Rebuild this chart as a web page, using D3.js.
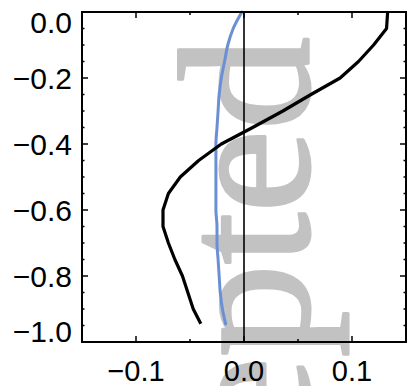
<!DOCTYPE html>
<html>
<head>
<meta charset="utf-8">
<script src="https://cdn.jsdelivr.net/npm/d3@7"></script>
<style>
  html, body { margin: 0; padding: 0; background: #fff; }
  svg { display: block; }
</style>
</head>
<body>
<div id="chart"></div>
<script>
// depth levels (y) and the two profiles
var depths = [0, -0.05, -0.1, -0.15, -0.2, -0.25, -0.3, -0.35, -0.4, -0.45,
	-0.5, -0.55, -0.6, -0.65, -0.7, -0.75, -0.8, -0.85, -0.9, -0.945];
var blackProfile = [0.133, 0.132, 0.120, 0.106, 0.089, 0.062, 0.036, 0.008, -0.021, -0.042,
	-0.059, -0.070, -0.075, -0.075, -0.070, -0.064, -0.057, -0.052, -0.047, -0.040];
var blueProfile = [-0.002, -0.010, -0.015, -0.018, -0.021, -0.023, -0.024, -0.025, -0.026, -0.026,
	-0.026, -0.026, -0.026, -0.025, -0.025, -0.024, -0.023, -0.022, -0.020, -0.017];
var xTickLabels = [-0.1, 0.0, 0.1];
var yTickLabels = [0.0, -0.2, -0.4, -0.6, -0.8, -1.0];

var width = 407, height = 386;
var frame = {left: 82, top: 12, right: 406, bottom: 342};
var serifFont = "'Liberation Serif', 'Times New Roman', serif";
var sansFont = "'Liberation Sans', Arial, Helvetica, sans-serif";

var svg = d3.select("#chart").append("svg")
	.attr("width", width)
	.attr("height", height);

var x = d3.scaleLinear().domain([-0.15, 0.15]).range([frame.left, frame.right]);
var y = d3.scaleLinear().domain([-1, 0]).range([frame.bottom, frame.top]);

// watermark, drawn first so everything sits on top of it
// (a thin stroke in the same grey makes the glyphs as heavy as the original)
svg.append("text")
	.attr("transform", "translate(308,37) rotate(-90)")
	.attr("text-anchor", "end")
	.style("font-family", serifFont)
	.style("font-size", "186px")
	.attr("fill", "#c2c2c2")
	.attr("stroke", "#c2c2c2")
	.attr("stroke-width", 3)
	.attr("stroke-linejoin", "round")
	.text("Accepted");

// tick positions every 0.05, majors on 0.1 (x) and 0.2 (y)
var xTicks = d3.range(-0.1, 0.1001, 0.05).map(function(d) { return +d.toFixed(2); });
var yTicks = d3.range(-0.95, -0.0001, 0.05).map(function(d) { return +d.toFixed(2); });
function isMajor(v, step) { return Math.abs(v / step - Math.round(v / step)) < 1e-6; }

var ticksG = svg.append("g")
	.attr("stroke", "#000")
	.attr("stroke-width", 1.5);

xTicks.forEach(function(v) {
	var len = isMajor(v, 0.1) ? 6 : 3;
	ticksG.append("line")
		.attr("x1", x(v)).attr("x2", x(v))
		.attr("y1", frame.bottom).attr("y2", frame.bottom - len);
	ticksG.append("line")
		.attr("x1", x(v)).attr("x2", x(v))
		.attr("y1", frame.top).attr("y2", frame.top + len);
});

yTicks.forEach(function(v) {
	var len = isMajor(v, 0.2) ? 6 : 2.5;
	ticksG.append("line")
		.attr("x1", frame.left).attr("x2", frame.left + len)
		.attr("y1", y(v)).attr("y2", y(v));
	ticksG.append("line")
		.attr("x1", frame.right).attr("x2", frame.right - len)
		.attr("y1", y(v)).attr("y2", y(v));
});

// zero line
svg.append("line")
	.attr("x1", x(0)).attr("x2", x(0))
	.attr("y1", frame.top).attr("y2", frame.bottom)
	.attr("stroke", "#000")
	.attr("stroke-width", 1.6);

// profiles
var blackData = depths.map(function(d, i) { return {depth: d, value: blackProfile[i]}; });
var blueData = depths.map(function(d, i) { return {depth: d, value: blueProfile[i]}; });

var line = d3.line()
	.x(function(d) { return x(d.value); })
	.y(function(d) { return y(d.depth); });

svg.append("path")
	.datum(blueData)
	.attr("fill", "none")
	.attr("stroke", "#6b8fd4")
	.attr("stroke-width", 3)
	.attr("stroke-linecap", "round")
	.attr("d", line.curve(d3.curveMonotoneY));

svg.append("path")
	.datum(blackData)
	.attr("fill", "none")
	.attr("stroke", "#000")
	.attr("stroke-width", 3.2)
	.attr("stroke-linejoin", "round")
	.attr("d", line.curve(d3.curveLinear));

// frame
svg.append("rect")
	.attr("x", frame.left).attr("y", frame.top)
	.attr("width", frame.right - frame.left)
	.attr("height", frame.bottom - frame.top)
	.attr("fill", "none")
	.attr("stroke", "#000")
	.attr("stroke-width", 2);

// tick labels
var fmt = d3.format(".1f");

svg.append("g").selectAll("text")
	.data(xTickLabels)
	.join("text")
	.attr("x", function(d) { return x(d); })
	.attr("y", 381)
	.attr("text-anchor", "middle")
	.style("font-family", sansFont)
	.style("font-size", "29px")
	.text(function(d) { return fmt(d); });

// end labels are kept inside the frame height, like the original
svg.append("g").selectAll("text")
	.data(yTickLabels)
	.join("text")
	.attr("x", 72)
	.attr("y", function(d) { return Math.max(frame.top + 21, Math.min(frame.bottom, y(d) + 11)); })
	.attr("text-anchor", "end")
	.style("font-family", sansFont)
	.style("font-size", "30px")
	.text(function(d) { return fmt(d); });
</script>
</body>
</html>
